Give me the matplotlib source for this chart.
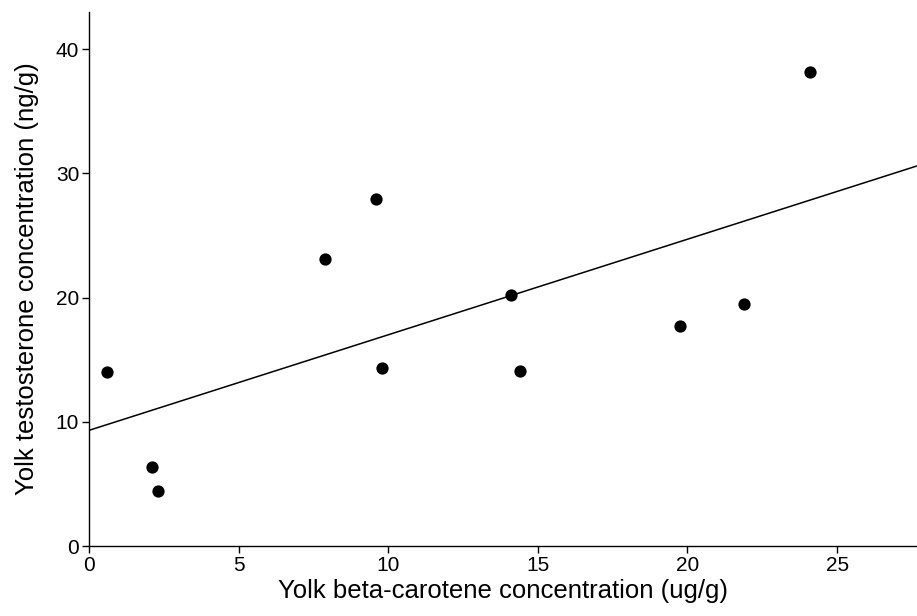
import numpy as np
import matplotlib
matplotlib.use("Agg")
import matplotlib.pyplot as plt

plt.rcParams['font.family'] = ['Liberation Sans', 'DejaVu Sans']

beta_carotene = [0.6, 2.1, 2.3, 7.9, 9.6, 9.8, 14.1, 14.4, 19.75, 21.9, 24.1]
testosterone = [14.0, 6.4, 4.4, 23.1, 27.9, 14.3, 20.2, 14.1, 17.7, 19.5, 38.2]
x_ticks = [0, 5, 10, 15, 20, 25]
y_ticks = [0, 10, 20, 30, 40]

fig = plt.figure(figsize=(9.17, 6.16), dpi=100)
ax = fig.add_axes([0.097, 0.1136, 0.903, 0.867])

ax.scatter(beta_carotene, testosterone, s=78, color='black', zorder=3, linewidths=0)
slope, intercept = np.polyfit(beta_carotene, testosterone, 1)
xlim = (0, 27.67)
xs = np.array(xlim)
ax.plot(xs, intercept + slope * xs, color='black', linewidth=1.1, zorder=2)

ax.set_xlim(*xlim)
ax.set_ylim(0, 43)
ax.set_xticks(x_ticks)
ax.set_yticks(y_ticks)
for s in ['top', 'right']:
    ax.spines[s].set_visible(False)
ax.spines['left'].set_linewidth(1.0)
ax.spines['bottom'].set_linewidth(1.0)
ax.tick_params(direction='out', length=5, width=1, labelsize=15, pad=2)
ax.set_xlabel('Yolk beta-carotene concentration (ug/g)', fontsize=18.5, labelpad=3)
ax.set_ylabel('Yolk testosterone concentration (ng/g)', fontsize=18.5, labelpad=12)

fig.savefig('out.png', dpi=100)
